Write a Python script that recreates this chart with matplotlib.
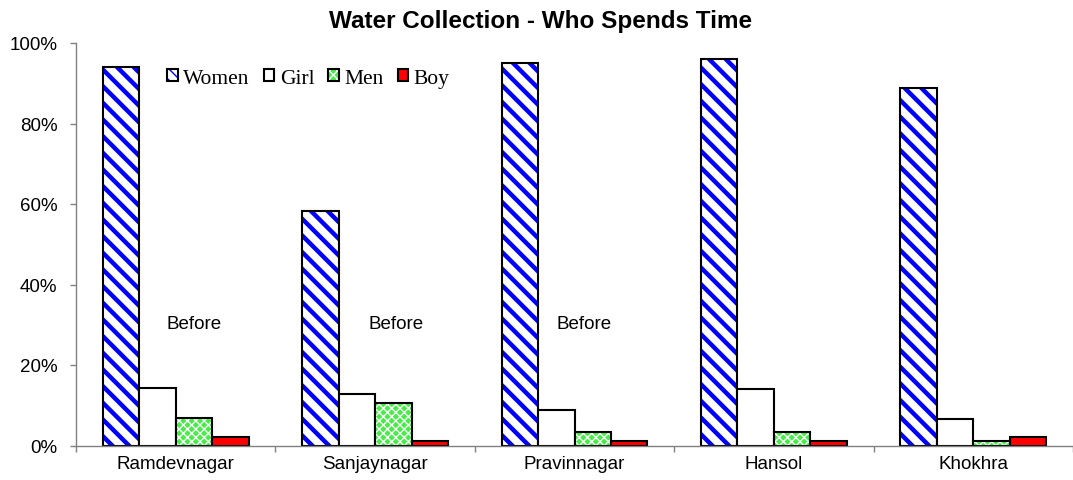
import matplotlib
matplotlib.use("Agg")
import matplotlib.pyplot as plt
import numpy as np
from matplotlib.patches import Patch
from matplotlib.ticker import PercentFormatter

villages = ["Ramdevnagar", "Sanjaynagar", "Pravinnagar", "Hansol", "Khokhra"]
women = [94.1, 58.3, 95.0, 96.0, 88.7]
girl = [14.2, 12.8, 8.7, 14.1, 6.5]
men = [6.9, 10.6, 3.3, 3.3, 1.2]
boy = [2.1, 1.1, 1.2, 1.2, 2.1]
notes = ["Before", "Before", "Before"]

sans = ["Liberation Sans", "Arial", "DejaVu Sans"]
serif = ["Liberation Serif", "Times New Roman", "DejaVu Serif"]
plt.rcParams["font.family"] = sans

fig = plt.figure(figsize=(10.73, 4.81), dpi=100)
ax = fig.add_axes([76 / 1073, 34.5 / 481, 997 / 1073, 402.5 / 481])

x = np.arange(len(villages))
w = 0.183

# women: blue diagonal stripes on white, black outline drawn on top
plt.rcParams["hatch.linewidth"] = 3.2
ax.bar(x - 1.5 * w, women, w, color="white", edgecolor="#0000ff", hatch="\\\\", linewidth=0)
ax.bar(x - 1.5 * w, women, w, fill=False, edgecolor="black", linewidth=1.5)
women_h = (Patch(facecolor="white", edgecolor="#0000ff", hatch="\\\\\\", linewidth=0),
           Patch(fill=False, edgecolor="black", linewidth=1.5))

ax.bar(x - 0.5 * w, girl, w, color="white", edgecolor="black", linewidth=1.5)

# men: green with a white lattice
plt.rcParams["hatch.linewidth"] = 1.0
ax.bar(x + 0.5 * w, men, w, color="#44ee44", edgecolor="white", hatch="xxxx", linewidth=0)
ax.bar(x + 0.5 * w, men, w, fill=False, edgecolor="black", linewidth=1.5)
men_h = (Patch(facecolor="#44ee44", edgecolor="white", hatch="xxxx", linewidth=0),
         Patch(fill=False, edgecolor="black", linewidth=1.5))

ax.bar(x + 1.5 * w, boy, w, color="#ff0000", edgecolor="black", linewidth=1.5)

handles = [
    women_h,
    Patch(facecolor="white", edgecolor="black", linewidth=1.5),
    men_h,
    Patch(facecolor="#ff0000", edgecolor="black", linewidth=1.5),
]
ax.legend(handles, ["Women", "Girl", "Men", "Boy"], ncol=4, frameon=False,
          loc="center left", bbox_to_anchor=(0.0913, 0.913),
          borderpad=0, borderaxespad=0, handlelength=0.5, handleheight=0.5,
          handletextpad=0.25, columnspacing=0.65,
          prop={"family": serif, "size": 15.5})

for xi, t in zip([0.09, 1.105, 2.05], notes):
    ax.text(xi, 30.4, t, ha="center", va="center", fontsize=13.5)

ax.set_xlim(-0.5, -0.5 + 997 / 200)
ax.set_ylim(0, 100)
ax.yaxis.set_major_formatter(PercentFormatter(decimals=0))
ax.set_yticks(np.arange(0, 101, 20))
ax.set_xticks(x)
ax.set_xticklabels(villages)
ax.set_xticks(np.arange(-0.5, 5, 1), minor=True)

for s in ["top", "right"]:
    ax.spines[s].set_visible(False)
for s in ["left", "bottom"]:
    ax.spines[s].set_color("#808080")
    ax.spines[s].set_linewidth(1.0)

ax.tick_params(axis="y", length=4.3, width=1, color="#808080", pad=9, labelsize=13.5)
ax.tick_params(axis="x", which="major", length=0, pad=7, labelsize=13.5)
ax.tick_params(axis="x", which="minor", length=4.3, width=1, color="#808080")

fig.suptitle("Water Collection - Who Spends Time", x=0.504, y=0.98, va="top",
             fontsize=17.5, fontweight="bold")

fig.savefig("out.png", dpi=100)
